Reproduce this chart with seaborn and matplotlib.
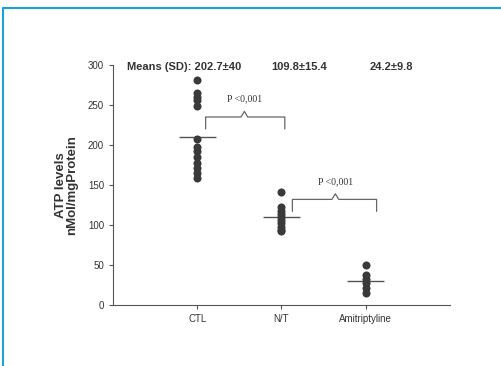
import numpy as np
import pandas as pd
import matplotlib
matplotlib.use("Agg")
import matplotlib.pyplot as plt
from matplotlib.lines import Line2D
import seaborn as sns

# values
groups = ["CTL", "N/T", "Amitriptyline"]
ctl = [281, 265, 260, 256, 249, 208, 197, 192, 185, 177, 171, 165, 159]
nt = [141, 122, 118, 114, 110, 106, 102, 98, 94, 92]
ami = [50, 37, 33, 27, 21, 15]
mean_marks = [210, 110, 30]
header = ["Means (SD): 202.7\u00b140", "109.8\u00b115.4", "24.2\u00b19.8"]

df = pd.DataFrame({
    "group": ["CTL"] * len(ctl) + ["N/T"] * len(nt) + ["Amitriptyline"] * len(ami),
    "atp": ctl + nt + ami,
})

sns.set_style("ticks")
plt.rcParams["font.family"] = ["Liberation Sans", "DejaVu Sans"]

fig = plt.figure(figsize=(5.01, 3.66), dpi=100)
ax = fig.add_axes([0.2255, 0.1667, 0.6725, 0.6557])

sns.stripplot(data=df, x="group", y="atp", order=groups, jitter=False,
              color="#3a3a3a", size=5.8, linewidth=0, ax=ax)

# mean bars
ax.hlines(mean_marks, np.arange(3) - 0.22, np.arange(3) + 0.22,
          color="#555555", lw=1)

ax.set_xlim(-1, 3)
ax.set_ylim(0, 300)
ax.set_yticks(range(0, 301, 50))
ax.set_xlabel("")
ax.set_ylabel("ATP levels\nnMol/mgProtein", fontsize=9.5, fontweight="bold",
              color="#333333", labelpad=7, linespacing=0.95)
ax.tick_params(axis="both", labelsize=7, colors="#555555", length=3,
               labelcolor="#333333", width=0.8)
sns.despine(ax=ax)
for s in ["left", "bottom"]:
    ax.spines[s].set_color("#555555")
    ax.spines[s].set_linewidth(0.8)


def brace(x0, x1, y_top, y_end, xm, y_peak, label, ly):
    xs = [x0, x0, xm - 0.04, xm, xm + 0.04, x1, x1]
    ys = [y_end, y_top, y_top, y_peak, y_top, y_top, y_end]
    ax.plot(xs, ys, color="#666666", lw=0.9)
    ax.text(xm, ly, label, ha="center", va="bottom", fontsize=7,
            family="Liberation Serif", color="#333333")


brace(0.1, 1.04, 235, 220, 0.56, 242, "P <0,001", 252)
brace(1.13, 2.13, 132, 117, 1.64, 139, "P <0,001", 149)

# means header
hx = [-0.15, 1.21, 2.31]
for x, t in zip(hx, header):
    ax.text(x, 297, t, ha="center", va="center", fontsize=8, fontweight="bold",
            color="#333333")

# blue frame
fc = "#1aa3d4"
fig.add_artist(Line2D([3 / 501, 1], [1 - 8 / 366, 1 - 8 / 366],
                      transform=fig.transFigure, color=fc, lw=1.5))
fig.add_artist(Line2D([3 / 501, 3 / 501], [0, 1 - 8 / 366],
                      transform=fig.transFigure, color=fc, lw=1.5))

fig.savefig("out.png", dpi=100)
